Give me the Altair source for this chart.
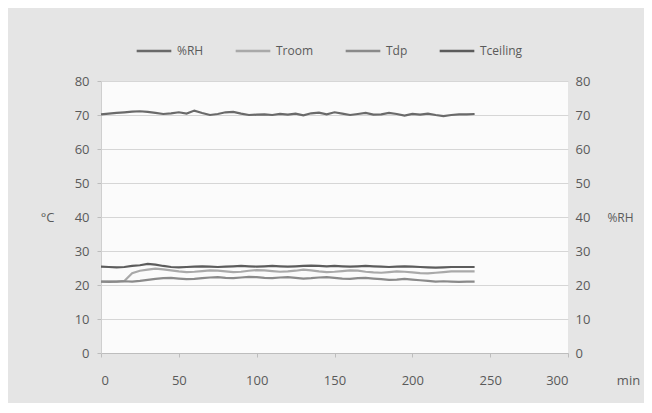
import altair as alt
import pandas as pd

minutes = list(range(0, 245, 5))
rh = [70.2, 70.4, 70.6, 70.8, 71.0, 71.1, 70.9, 70.6, 70.3, 70.5, 70.8, 70.4, 71.3, 70.6, 70.0,
      70.3, 70.8, 70.9, 70.4, 70.0, 70.1, 70.2, 70.0, 70.3, 70.1, 70.4, 69.9, 70.5, 70.7, 70.2,
      70.8, 70.4, 70.0, 70.3, 70.6, 70.1, 70.2, 70.6, 70.3, 69.8, 70.3, 70.1, 70.4, 70.0, 69.7,
      70.0, 70.2, 70.2, 70.3]
troom = [21.0, 21.1, 21.0, 21.2, 23.5, 24.2, 24.5, 24.8, 24.6, 24.3, 24.0, 23.8, 23.9, 24.1, 24.3,
         24.2, 24.0, 23.8, 23.9, 24.2, 24.4, 24.3, 24.1, 23.9, 24.0, 24.2, 24.5, 24.3, 24.0, 23.8,
         23.9, 24.1, 24.3, 24.2, 23.9, 23.7, 23.6, 23.8, 24.0, 23.9, 23.7, 23.5, 23.4, 23.6, 23.8,
         24.0, 24.0, 24.0, 24.0]
tdp = [21.0, 20.9, 21.0, 21.1, 21.0, 21.2, 21.5, 21.8, 22.0, 22.1, 21.9, 21.7, 21.8, 22.0, 22.2,
       22.3, 22.1, 22.0, 22.2, 22.4, 22.3, 22.1, 22.0, 22.2, 22.3, 22.1, 21.9, 22.0, 22.2, 22.3,
       22.1, 21.9, 21.8, 22.0, 22.1, 21.9, 21.7, 21.5, 21.6, 21.8, 21.6, 21.4, 21.2, 21.0, 21.1,
       21.0, 20.9, 21.0, 21.0]
tceiling = [25.4, 25.3, 25.2, 25.3, 25.6, 25.8, 26.2, 26.0, 25.6, 25.3, 25.2, 25.3, 25.4, 25.5, 25.4,
            25.3, 25.4, 25.5, 25.6, 25.5, 25.4, 25.5, 25.6, 25.5, 25.4, 25.5, 25.6, 25.7, 25.6, 25.5,
            25.6, 25.5, 25.4, 25.5, 25.6, 25.5, 25.4, 25.3, 25.4, 25.5, 25.4, 25.3, 25.2, 25.1, 25.2,
            25.3, 25.3, 25.3, 25.3]

series_names = ["%RH", "Troom", "Tdp", "Tceiling"]
series_colors = ["#6a6a6a", "#a9a9a9", "#8a8a8a", "#5c5c5c"]

rows = []
for name, vals in zip(series_names, [rh, troom, tdp, tceiling]):
    for t, v in zip(minutes, vals):
        rows.append({"min": t, "value": v, "series": name})
df = pd.DataFrame(rows)

FONT = "Open Sans"
LABEL_COLOR = "#5a5a5a"

color = alt.Color(
    "series:N",
    scale=alt.Scale(domain=series_names, range=series_colors),
    legend=alt.Legend(
        title=None, orient="none", direction="horizontal",
        legendX=34, legendY=-49,
        symbolType="stroke", symbolSize=1200, symbolStrokeWidth=2.5,
        columnPadding=26, labelFontSize=12, labelFont=FONT, labelColor=LABEL_COLOR,
        labelOffset=4,
    ),
)

xenc = alt.X(
    "min:Q",
    scale=alt.Scale(domain=[0, 300], nice=False),
    axis=alt.Axis(
        values=[0, 50, 100, 150, 200, 250, 300], title="min", grid=False,
        labelFontSize=13, labelFont=FONT, labelColor=LABEL_COLOR, labelPadding=17,
        tickSize=4, tickColor="#bdbdbd", domainColor="#bdbdbd",
        titleX=527, titleY=27, titleAlign="center", titleBaseline="middle",
        titleFontSize=13, titleFont=FONT, titleColor=LABEL_COLOR, titleFontWeight="normal",
    ),
)

base = alt.Chart(df)

temps = base.transform_filter(alt.datum.series != "%RH").mark_line(strokeWidth=2.2).encode(
    x=xenc,
    y=alt.Y(
        "value:Q",
        scale=alt.Scale(domain=[0, 80], nice=False),
        axis=alt.Axis(
            values=list(range(0, 90, 10)), title="°C", titleAngle=0,
            titleX=-54, titleY=136, titleAlign="center", titleBaseline="middle",
            titleFontSize=13, titleFont=FONT, titleColor=LABEL_COLOR, titleFontWeight="normal",
            labelFontSize=13, labelFont=FONT, labelColor=LABEL_COLOR, labelPadding=8,
            tickSize=4, tickColor="#bdbdbd", domainColor="#cfcfcf",
            gridColor="#d6d6d6", gridWidth=1,
        ),
    ),
    color=color,
    detail="series:N",
)

rhline = base.transform_filter(alt.datum.series == "%RH").mark_line(strokeWidth=2.2).encode(
    x=alt.X("min:Q", scale=alt.Scale(domain=[0, 300], nice=False)),
    y=alt.Y(
        "value:Q",
        scale=alt.Scale(domain=[0, 80], nice=False),
        axis=alt.Axis(
            orient="right", values=list(range(0, 90, 10)), title="%RH", titleAngle=0,
            titleX=52, titleY=136, titleAlign="center", titleBaseline="middle",
            titleFontSize=12, titleFont=FONT, titleColor=LABEL_COLOR, titleFontWeight="normal",
            labelFontSize=13, labelFont=FONT, labelColor=LABEL_COLOR, labelPadding=7,
            ticks=False, domain=False, grid=False,
        ),
    ),
    color=color,
)

chart = (
    alt.layer(temps, rhline)
    .resolve_scale(y="independent")
    .properties(
        width=467, height=272,
        autosize=alt.AutoSizeParams(type="none"),
        padding={"left": 93, "top": 73, "right": 76, "bottom": 50},
        background="#e5e5e5",
    )
    .configure_view(fill="#fbfbfb", stroke=None)
)

chart.save("out.html", embed_options={"renderer": "svg", "actions": False})
